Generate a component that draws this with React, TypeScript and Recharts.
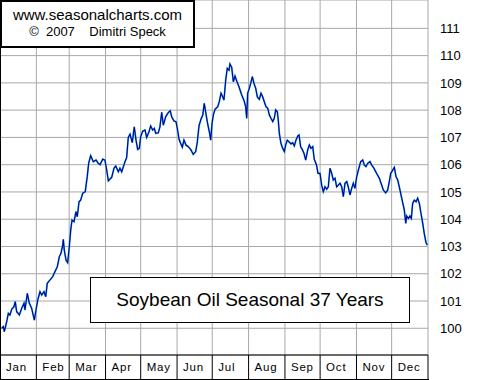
import { CartesianGrid, Line, LineChart, XAxis, YAxis } from "recharts";

const MONTHS = ["Jan", "Feb", "Mar", "Apr", "May", "Jun", "Jul", "Aug", "Sep", "Oct", "Nov", "Dec"];
const MONTH_STARTS = [0, 31, 59, 90, 120, 151, 181, 212, 243, 273, 304, 334, 365];
const Y_TICKS = [100, 101, 102, 103, 104, 105, 106, 107, 108, 109, 110, 111];

// day of year
const DAYS = [
  1.4, 2.8, 3.7, 5.7, 7.1, 8.5, 10.0, 11.9, 13.0, 14.2, 16.5, 18.5, 20.5, 21.3, 23.3, 25.0,
  27.0, 29.3, 30.7, 32.2, 34.1, 35.6, 37.5, 39.0, 40.3, 42.6, 44.9, 46.9, 48.9, 50.6, 52.0,
  53.5, 54.0, 54.8, 56.3, 57.7, 59.1, 60.3, 61.4, 63.1, 64.8, 65.9, 67.4, 68.8, 70.5, 72.7,
  74.4, 75.6, 77.3, 79.6, 81.9, 83.8, 85.3, 87.6, 89.5, 91.0, 92.4, 95.3, 97.2, 98.7, 100.9,
  102.3, 103.8, 106.6, 108.0, 109.4, 110.9, 112.8, 114.5, 116.0, 117.4, 118.8, 120.0, 121.7,
  123.7, 125.1, 127.1, 128.5, 130.2, 131.6, 132.8, 135.0, 136.4, 137.9, 139.3, 141.3, 143.5,
  145.2, 146.4, 148.4, 150.1, 151.2, 152.7, 154.1, 155.5, 156.9, 158.6, 160.6, 162.6, 164.8,
  166.9, 168.3, 169.7, 171.4, 172.9, 174.2, 175.7, 177.1, 178.5, 179.7, 180.8, 181.9, 183.4,
  185.7, 187.0, 188.5, 189.9, 191.0, 192.5, 193.8, 195.3, 196.1, 197.6, 199.0, 200.4, 202.1,
  203.8, 206.1, 208.1, 209.5, 210.4, 211.2, 212.6, 213.8, 215.2, 216.6, 218.1, 219.4, 221.1,
  222.6, 224.0, 225.4, 226.8, 228.3, 229.7, 231.1, 232.6, 233.9, 235.1, 236.5, 237.3, 238.2,
  239.6, 241.1, 242.5, 243.6, 245.0, 246.5, 248.2, 249.6, 251.0, 252.4, 253.9, 255.0, 256.4,
  257.8, 259.2, 260.7, 262.4, 263.8, 265.2, 266.7, 268.0, 269.9, 271.2, 272.9, 274.3, 275.7,
  277.2, 278.6, 280.0, 281.4, 282.9, 284.2, 285.7, 287.1, 288.5, 290.0, 291.4, 292.8, 294.2,
  295.7, 297.0, 298.5, 299.9, 301.3, 302.7, 304.2, 305.6, 307.6, 309.3, 310.7, 312.1, 313.6,
  315.5, 317.0, 318.9, 321.2, 323.5, 325.5, 326.9, 328.9, 330.6, 332.0, 333.2, 334.9, 336.3,
  337.7, 339.2, 340.5, 342.0, 343.4, 344.8, 346.0, 346.8, 348.2, 349.6, 350.8, 351.9, 353.3,
  354.8, 356.2, 357.6, 359.0, 360.5, 361.8, 363.3, 364.4,
];

const VALUES = [
  100.0, 100.06, 99.88, 100.24, 100.55, 100.49, 100.7, 100.79, 100.98, 100.61, 100.49, 100.73,
  100.92, 100.67, 101.28, 100.92, 100.73, 100.3, 100.67, 101.04, 101.34, 101.22, 101.34, 101.16,
  101.65, 101.77, 101.89, 102.08, 102.26, 102.63, 102.75, 103.05, 103.26, 102.87, 102.5, 102.41,
  102.99, 103.6, 103.97, 103.91, 104.28, 104.09, 104.64, 104.7, 104.95, 105.01, 105.56, 106.05,
  106.33, 106.11, 106.17, 106.05, 106.0, 106.2, 106.17, 105.8, 105.41, 105.54, 105.87, 105.95,
  105.74, 105.87, 105.74, 106.11, 106.26, 107.0, 107.12, 106.81, 107.39, 106.9, 106.56, 106.6,
  107.03, 107.23, 107.27, 107.0, 107.21, 107.42, 107.27, 107.33, 107.15, 107.17, 107.39, 107.92,
  107.45, 107.76, 107.91, 107.98, 107.76, 107.6, 107.58, 107.33, 106.93, 106.78, 106.64, 106.9,
  106.72, 106.66, 106.56, 106.38, 106.48, 106.84, 107.42, 107.67, 107.82, 108.25, 107.85, 107.5,
  107.21, 106.9, 107.5, 107.82, 108.03, 108.13, 108.31, 108.62, 108.49, 108.37, 109.11, 109.53,
  109.47, 109.69, 109.57, 109.04, 109.25, 109.04, 108.86, 108.56, 108.35, 108.13, 107.7, 108.62,
  108.8, 108.98, 109.23, 108.98, 108.8, 108.49, 108.4, 108.62, 108.49, 108.31, 108.13, 108.07,
  107.82, 107.7, 107.58, 107.7, 108.01, 107.94, 107.64, 107.15, 106.78, 106.6, 106.48, 106.72,
  106.9, 106.84, 106.76, 106.81, 106.69, 106.9, 107.05, 107.09, 106.66, 106.56, 106.42, 106.17,
  106.54, 106.72, 106.6, 106.66, 106.2, 105.99, 105.68, 105.68, 105.25, 105.01, 105.19, 105.1,
  105.19, 105.87, 105.68, 105.44, 105.5, 105.19, 105.25, 105.32, 105.19, 104.83, 105.32, 105.38,
  105.19, 104.89, 105.13, 105.32, 105.13, 105.56, 105.8, 106.11, 106.17, 105.99, 105.93, 106.05,
  106.11, 105.99, 105.87, 105.68, 105.5, 105.25, 105.07, 104.97, 105.07, 105.38, 105.68, 105.8,
  105.9, 105.56, 105.44, 105.19, 104.89, 104.61, 104.34, 103.85, 104.12, 104.03, 104.12, 104.03,
  104.58, 104.7, 104.64, 104.77, 104.58, 104.22, 103.85, 103.48, 103.14, 103.05,
];

const data = DAYS.map((day, i) => ({ day, value: VALUES[i] }));

const FONT = "'Liberation Sans', Arial, sans-serif";

function MonthTick({ x, y, index }: { x?: number; y?: number; index?: number }) {
  const px = x ?? 0;
  const py = y ?? 0;
  const i = index ?? 0;
  return (
    <g>
      <line stroke="#000" x1={px} x2={px} y1={py} y2={py + 24} />
      {i < MONTHS.length ? (
        <text fill="#000" fontFamily={FONT} fontSize={11.5} letterSpacing={0.8} x={px + 6} y={py + 16}>
          {MONTHS[i]}
        </text>
      ) : null}
    </g>
  );
}

export default function App() {
  return (
    <div style={{ position: "absolute", left: 0, top: 0, width: 480, height: 380, background: "#fff" }}>
      <LineChart data={data} height={380} margin={{ top: 0, right: 0, bottom: 1, left: 0 }} width={480}>
        <CartesianGrid stroke="#a8a8a8" />
        <XAxis
          allowDataOverflow
          axisLine={{ stroke: "#000" }}
          dataKey="day"
          domain={[0, 365]}
          height={24}
          interval={0}
          tick={<MonthTick />}
          tickLine={false}
          tickMargin={0}
          tickSize={0}
          ticks={MONTH_STARTS}
          type="number"
        />
        <YAxis
          allowDataOverflow
          axisLine={false}
          domain={[99.02, 112.04]}
          orientation="right"
          tick={{ fill: "#000", fontSize: 13, fontFamily: FONT }}
          tickLine={false}
          tickMargin={6}
          ticks={Y_TICKS}
          type="number"
          width={52}
        />
        <Line dataKey="value" dot={false} isAnimationActive={false} stroke="#38b4d8" strokeWidth={1.8} type="linear" />
        <Line dataKey="value" dot={false} isAnimationActive={false} stroke="#0000a0" strokeWidth={1.1} type="linear" />
      </LineChart>

      <div style={{ position: "absolute", left: 0, top: 0, width: 1, height: 380, background: "#000" }} />
      <div style={{ position: "absolute", left: 0, top: 379, width: 429, height: 1, background: "#000" }} />

      <div
        style={{
          position: "absolute",
          left: 0,
          top: 0,
          width: 195,
          height: 48,
          boxSizing: "border-box",
          border: "2px solid #000",
          background: "#fff",
          fontFamily: FONT,
          color: "#000",
          textAlign: "center",
        }}
      >
        <div style={{ fontSize: 15, lineHeight: "17px", marginTop: 4 }}>www.seasonalcharts.com</div>
        <div style={{ fontSize: 13, lineHeight: "17px", whiteSpace: "pre" }}>{"©  2007    Dimitri Speck"}</div>
      </div>

      <div
        style={{
          position: "absolute",
          left: 90,
          top: 277,
          width: 320,
          height: 46,
          boxSizing: "border-box",
          border: "1px solid #000",
          background: "#fff",
          fontFamily: FONT,
          fontSize: 19,
          color: "#000",
          display: "flex",
          alignItems: "center",
          justifyContent: "center",
        }}
      >
        Soybean Oil Seasonal 37 Years
      </div>
    </div>
  );
}
